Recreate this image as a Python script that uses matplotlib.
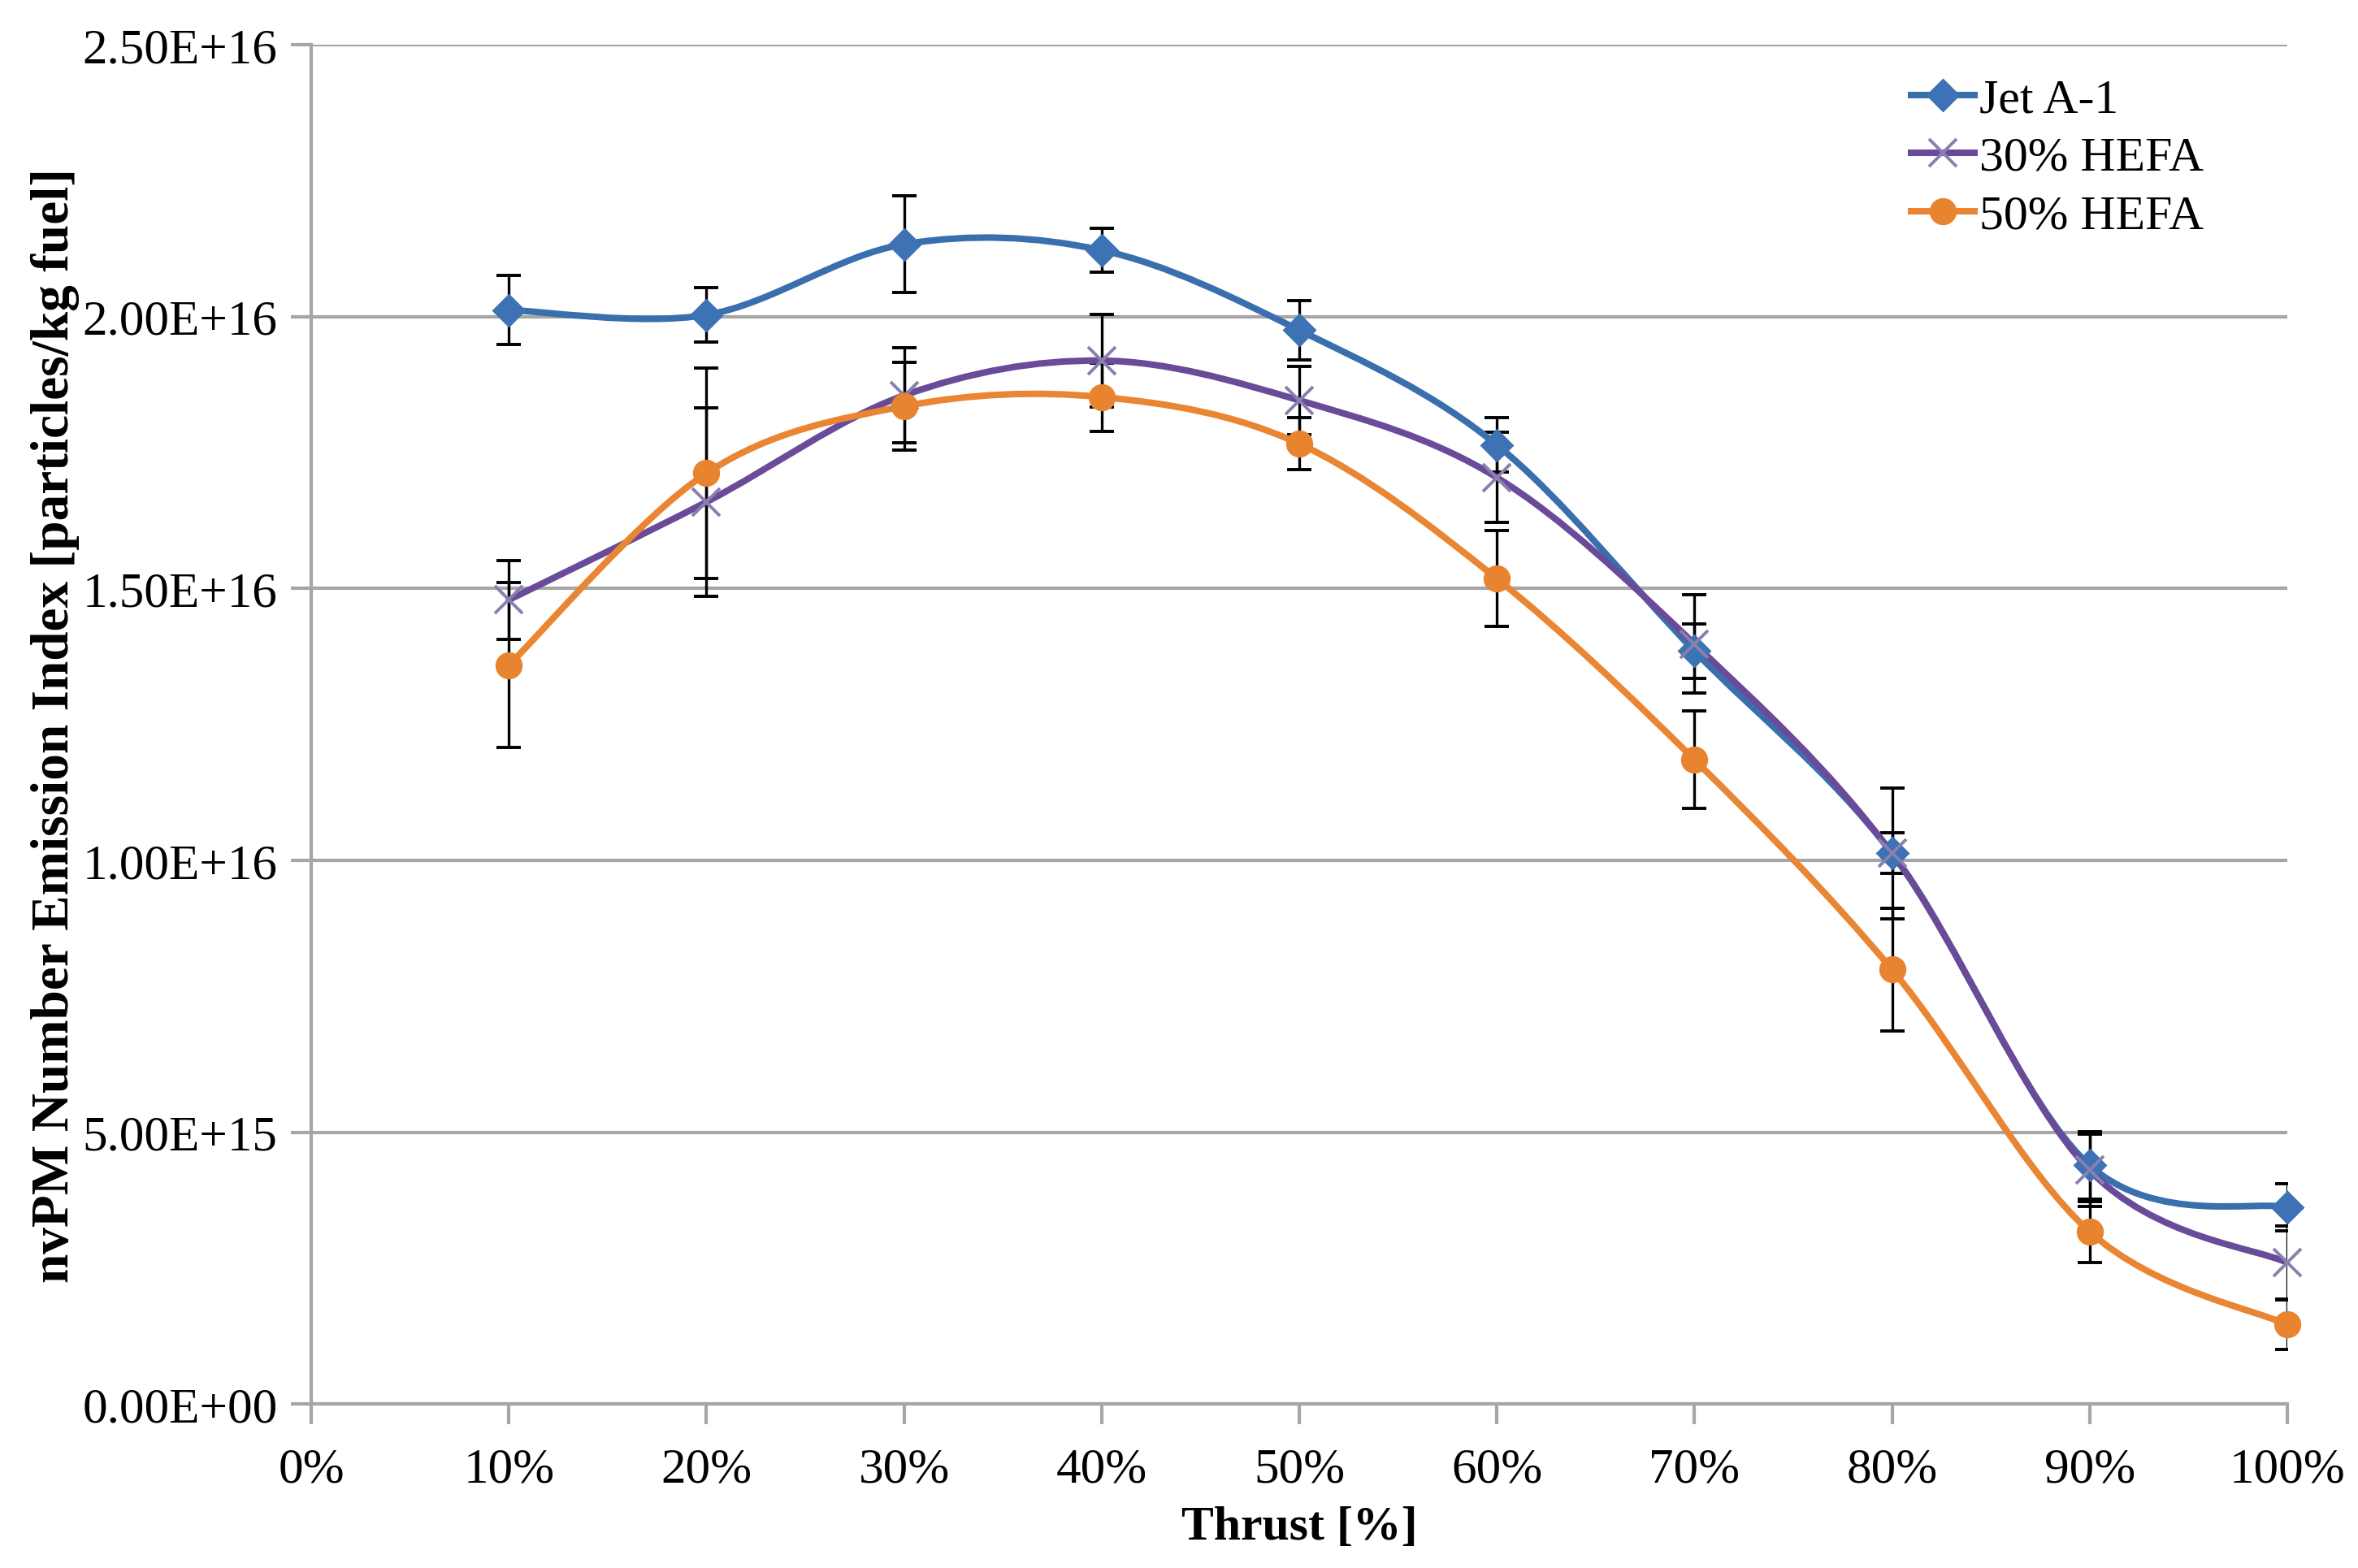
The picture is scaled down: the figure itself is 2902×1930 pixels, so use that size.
import numpy as np
import matplotlib
matplotlib.use("Agg")
import matplotlib.pyplot as plt
from matplotlib.path import Path
from matplotlib.patches import PathPatch
from matplotlib.lines import Line2D
from matplotlib.ticker import FuncFormatter

# data
thrust = [10, 20, 30, 40, 50, 60, 70, 80, 90, 100]
jet_a1 = [2.012e16, 2.003e16, 2.133e16, 2.122e16, 1.975e16, 1.764e16, 1.385e16, 1.013e16, 4.39e15, 3.62e15]
jet_a1_err = [6.3e14, 5.0e14, 8.9e14, 4.1e14, 5.5e14, 5.0e14, 5.0e14, 3.7e14, 6.2e14, 4.3e14]
hefa30 = [1.479e16, 1.659e16, 1.855e16, 1.919e16, 1.846e16, 1.704e16, 1.398e16, 1.013e16, 4.30e15, 2.60e15]
hefa30_err = [7.2e14, 1.73e15, 8.7e14, 8.5e14, 6.3e14, 8.3e14, 9.0e14, 1.2e15, 6.6e14, 6.7e14]
hefa50 = [1.359e16, 1.712e16, 1.835e16, 1.852e16, 1.766e16, 1.518e16, 1.185e16, 7.99e15, 3.17e15, 1.46e15]
hefa50_err = [1.52e15, 1.93e15, 8.1e14, 6.3e14, 4.8e14, 8.8e14, 9.0e14, 1.13e15, 5.6e14, 4.5e14]

labels = ["Jet A-1", "30% HEFA", "50% HEFA"]
line_cols = ["#3a6fae", "#6a4b9a", "#e98533"]


def smooth_path(x, y):
    # excel style smoothed line: cubic bezier through the points
    x = np.asarray(x, float)
    y = np.asarray(y, float)
    px = np.concatenate([[x[0]], x, [x[-1]]])
    py = np.concatenate([[y[0]], y, [y[-1]]])
    verts = [(x[0], y[0])]
    codes = [Path.MOVETO]
    for i in range(1, len(x)):
        c1 = (px[i] + (px[i + 1] - px[i - 1]) / 6, py[i] + (py[i + 1] - py[i - 1]) / 6)
        c2 = (px[i + 1] - (px[i + 2] - px[i]) / 6, py[i + 1] - (py[i + 2] - py[i]) / 6)
        verts += [c1, c2, (px[i + 1], py[i + 1])]
        codes += [Path.CURVE4] * 3
    return Path(verts, codes)


plt.rcParams['font.family'] = ['Liberation Serif', 'DejaVu Serif']

fig = plt.figure(figsize=(14.51, 9.655), dpi=200)
ax = fig.add_axes([0.132, 0.1045, 0.838, 0.8665])

series = [(jet_a1, jet_a1_err), (hefa30, hefa30_err), (hefa50, hefa50_err)]

# error bars
for vals, err in series:
    ax.errorbar(thrust, vals, yerr=err, fmt='none', ecolor='black',
                elinewidth=1.2, capsize=5.5, capthick=1.4, zorder=3)

# smoothed lines
for (vals, err), c in zip(series, line_cols):
    ax.add_patch(PathPatch(smooth_path(thrust, vals), fill=False, edgecolor=c,
                           lw=2.9, zorder=4, capstyle='round'))

# markers
ax.plot(thrust, jet_a1, linestyle='none', marker='D', ms=9.5, color='#3d72b4',
        zorder=5, clip_on=False)
ax.plot(thrust, hefa30, linestyle='none', marker='x', ms=12, mew=1.4,
        color='#8a80ae', zorder=5, clip_on=False)
ax.plot(thrust, hefa50, linestyle='none', marker='o', ms=11, color='#e8832f',
        zorder=5, clip_on=False)

ax.set_xlim(0, 100)
ax.set_ylim(0, 2.5e16)
ax.set_xticks(np.arange(0, 101, 10))
ax.set_yticks(np.arange(0, 2.51e16, 5e15))
ax.xaxis.set_major_formatter(FuncFormatter(lambda v, p: f"{v:.0f}%"))
ax.yaxis.set_major_formatter(FuncFormatter(lambda v, p: f"{v:.2E}"))

ax.grid(axis='y', color='#a6a6a6', lw=1.5)
ax.set_axisbelow(True)
for s in ['top', 'right']:
    ax.spines[s].set_visible(False)
for s in ['left', 'bottom']:
    ax.spines[s].set_color('#a6a6a6')
    ax.spines[s].set_linewidth(1.5)
ax.tick_params(axis='both', colors='#a6a6a6', width=1.5, length=9, labelsize=22,
               labelcolor='black')
ax.tick_params(axis='x', pad=10)
ax.tick_params(axis='y', pad=6)

ax.set_xlabel("Thrust [%]", fontsize=21.5, fontweight='bold', labelpad=6)
ax.set_ylabel("nvPM Number Emission Index [particles/kg fuel]", fontsize=23.5,
              fontweight='bold', labelpad=1)

handles = [
    Line2D([], [], color=line_cols[0], lw=2.9, marker='D', ms=9.5, mfc='#3d72b4', mec='#3d72b4'),
    Line2D([], [], color=line_cols[1], lw=2.9, marker='x', ms=12, mew=1.4, mec='#8a80ae'),
    Line2D([], [], color=line_cols[2], lw=2.9, marker='o', ms=11, mfc='#e8832f', mec='#e8832f'),
]
ax.legend(handles, labels, loc='upper left', bbox_to_anchor=(0.8, 0.99), frameon=False,
          fontsize=21.5, handlelength=1.3, handletextpad=0.1, labelspacing=0.28,
          borderaxespad=0)

fig.savefig("out.png", dpi=200)
